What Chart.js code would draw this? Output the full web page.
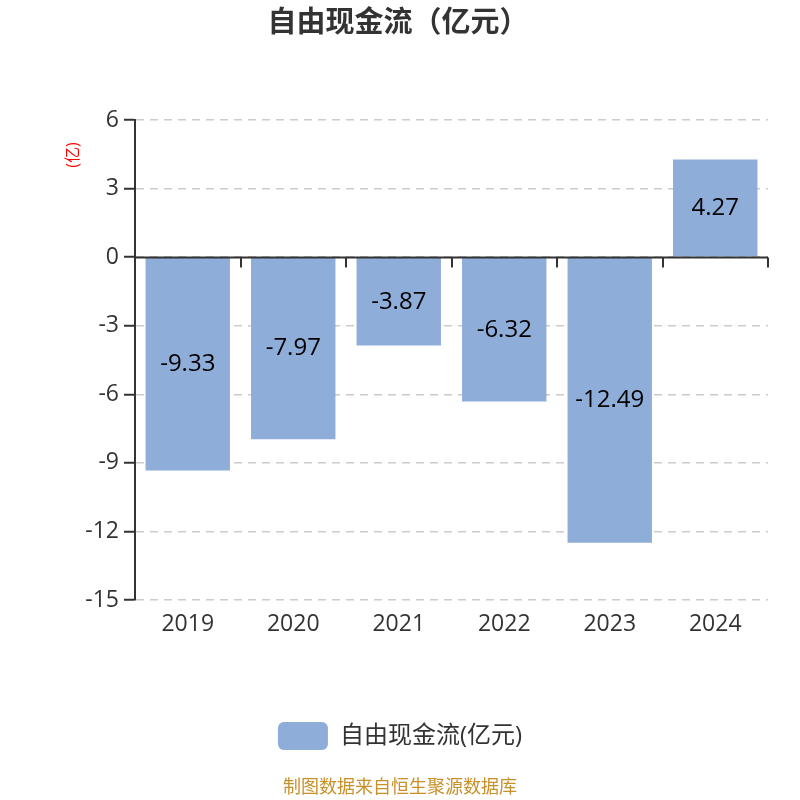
<!DOCTYPE html>
<html><head><meta charset="utf-8">
<script src="https://cdn.jsdelivr.net/npm/chart.js@4/dist/chart.umd.min.js"></script>
<style>html,body{margin:0;padding:0;background:#fff}#c{display:block}</style>
</head><body>
<canvas id="c" width="800" height="800"></canvas>
<script>
const categories = ['2019','2020','2021','2022','2023','2024'];
const values = [-9.33, -7.97, -3.87, -6.32, -12.49, 4.27];
const yTicks = [6, 3, 0, -3, -6, -9, -12, -15];
const seriesName = '自由现金流(亿元)';
const titleText = '自由现金流（亿元）';
const unitText = '(亿)';
const sourceText = '制图数据来自恒生聚源数据库';
const FONT = '"Open Sans","Noto Sans CJK SC",sans-serif';

const extras = {
  id: 'extras',
  afterDatasetsDraw(chart) {
    const ctx = chart.ctx, x = chart.scales.x, y = chart.scales.y, area = chart.chartArea;
    const y0 = Math.round(y.getPixelForValue(0)) + 0.5;
    ctx.save();
    ctx.setLineDash([]);
    ctx.strokeStyle = '#333'; ctx.lineWidth = 2;
    ctx.beginPath(); ctx.moveTo(area.left, y0); ctx.lineTo(area.right, y0); ctx.stroke();
    const n = categories.length, w = (area.right - area.left) / n;
    for (let i = 0; i <= n; i++) {
      const px = Math.round(area.left + i * w);
      ctx.beginPath(); ctx.moveTo(px, y0); ctx.lineTo(px, y0 + 10); ctx.stroke();
    }
    // value labels
    const meta = chart.getDatasetMeta(0);
    ctx.fillStyle = '#000'; ctx.font = '24px ' + FONT;
    ctx.textAlign = 'center'; ctx.textBaseline = 'middle';
    meta.data.forEach((bar, i) => {
      const cy = (bar.y + bar.base) / 2;
      ctx.fillText(String(values[i]), bar.x, cy);
    });
    ctx.restore();
  },
  afterDraw(chart) {
    const ctx = chart.ctx;
    ctx.save();
    ctx.textAlign = 'center'; ctx.textBaseline = 'middle';
    ctx.fillStyle = '#333'; ctx.font = 'bold 29px ' + FONT;
    ctx.fillText(titleText, 398, 24);
    ctx.fillStyle = '#c8902a'; ctx.font = '18px ' + FONT;
    ctx.fillText(sourceText, 400, 788);
    ctx.translate(73, 155); ctx.rotate(-Math.PI / 2);
    ctx.fillStyle = '#ff0000'; ctx.font = '16px ' + FONT;
    ctx.fillText(unitText, 0, 0);
    ctx.restore();
  }
};

new Chart(document.getElementById('c'), {
  type: 'bar',
  data: {
    labels: categories,
    datasets: [{
      label: seriesName,
      data: values,
      backgroundColor: '#8eadd9',
      borderWidth: 0,
      barPercentage: 0.8,
      categoryPercentage: 1.0
    }]
  },
  options: {
    responsive: false,
    animation: false,
    devicePixelRatio: 1,
    layout: { padding: { top: 120, right: 32, bottom: 40, left: 32 } },
    plugins: {
      title: { display: false },
      tooltip: { enabled: false },
      legend: {
        position: 'bottom',
        labels: {
          boxWidth: 50, boxHeight: 28, useBorderRadius: true, borderRadius: 6,
          color: '#333', font: { size: 24, family: FONT }, padding: 8
        }
      }
    },
    scales: {
      x: {
        grid: { display: false, drawTicks: false },
        border: { display: false },
        ticks: { color: '#333', font: { size: 23, family: FONT }, padding: 11 },
        afterFit(s) { s.height = 114; }
      },
      y: {
        min: -15, max: 6,
        afterBuildTicks(s) { s.ticks = yTicks.map(v => ({ value: v })); },
        grid: {
          color: '#cccccc', lineWidth: 1.5,
          tickColor: '#333', tickLength: 11, tickBorderDash: [], tickWidth: 2
        },
        border: { display: true, color: '#333', width: 2, dash: [8, 6] },
        ticks: { color: '#333', font: { size: 23, family: FONT }, padding: 5 },
        afterFit(s) { s.width = 103; }
      }
    }
  },
  plugins: [extras]
});
</script>
</body></html>
